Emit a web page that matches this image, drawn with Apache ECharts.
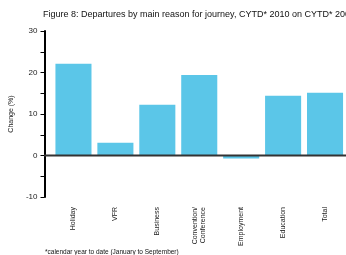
<!DOCTYPE html>
<html>
<head>
    <meta charset="utf-8">
    <title>Departures by reason</title>
    <script src="https://cdn.jsdelivr.net/npm/echarts@6/dist/echarts.min.js"></script>
    <style>
        body { margin: 0; background: #fff; }
    </style>
</head>
<body>
    <div id="main" style="width: 346px;height: 255px;"></div>
    <script type="text/javascript">
// data
var categories = ['Holiday', 'VFR', 'Business', 'Convention/\nConference', 'Employment', 'Education', 'Total'];
var changes = [22.1, 3.1, 12.2, 19.4, -0.7, 14.4, 15.1];
var yTicks = [-10, 0, 10, 20, 30];

var font = 'Liberation Sans, Arial, sans-serif';
var myChart = echarts.init(document.getElementById('main'));

myChart.setOption({
    animation: false,
    title: {
        text: 'Figure 8: Departures by main reason for journey, CYTD* 2010 on CYTD* 2009',
        left: 43,
        top: 10,
        padding: 0,
        textStyle: { fontFamily: font, fontSize: 9, fontWeight: 'normal', color: '#111' }
    },
    grid: { left: 52.5, right: 0, top: 31, bottom: 58 },
    xAxis: {
        type: 'category',
        data: categories,
        axisLine: { show: false, onZero: false },
        axisTick: { show: false },
        axisLabel: {
            rotate: 90,
            margin: 10,
            fontFamily: font,
            fontSize: 7,
            lineHeight: 8,
            color: '#222'
        }
    },
    yAxis: {
        type: 'value',
        min: -10,
        max: 30,
        interval: 5,
        offset: 8,
        name: 'Change (%)',
        nameLocation: 'middle',
        nameGap: 26,
        nameTextStyle: { fontFamily: font, fontSize: 7, color: '#222' },
        axisLine: { show: true, lineStyle: { color: '#000', width: 2 } },
        axisTick: { show: true, length: 4, lineStyle: { color: '#000', width: 1 } },
        splitLine: { show: false },
        axisLabel: {
            fontFamily: font,
            fontSize: 8,
            color: '#222',
            margin: 7,
            formatter: function (v) { return yTicks.indexOf(v) >= 0 ? String(v) : ''; }
        }
    },
    series: [{
        type: 'bar',
        data: changes,
        barCategoryGap: '14%',
        itemStyle: { color: '#5BC6E8' }
    }]
});

// zero line from the y axis across the plot
var y0 = myChart.convertToPixel({ yAxisIndex: 0 }, 0);
myChart.setOption({
    graphic: [{
        type: 'line',
        z: 10,
        shape: { x1: 44, y1: y0, x2: 346, y2: y0 },
        style: { stroke: '#333', lineWidth: 2 }
    }, {
        type: 'text',
        left: 45,
        top: 249,
        style: { text: '*calendar year to date (January to September)', font: '6.5px ' + font, fill: '#111' }
    }]
});
    </script>
</body>
</html>
